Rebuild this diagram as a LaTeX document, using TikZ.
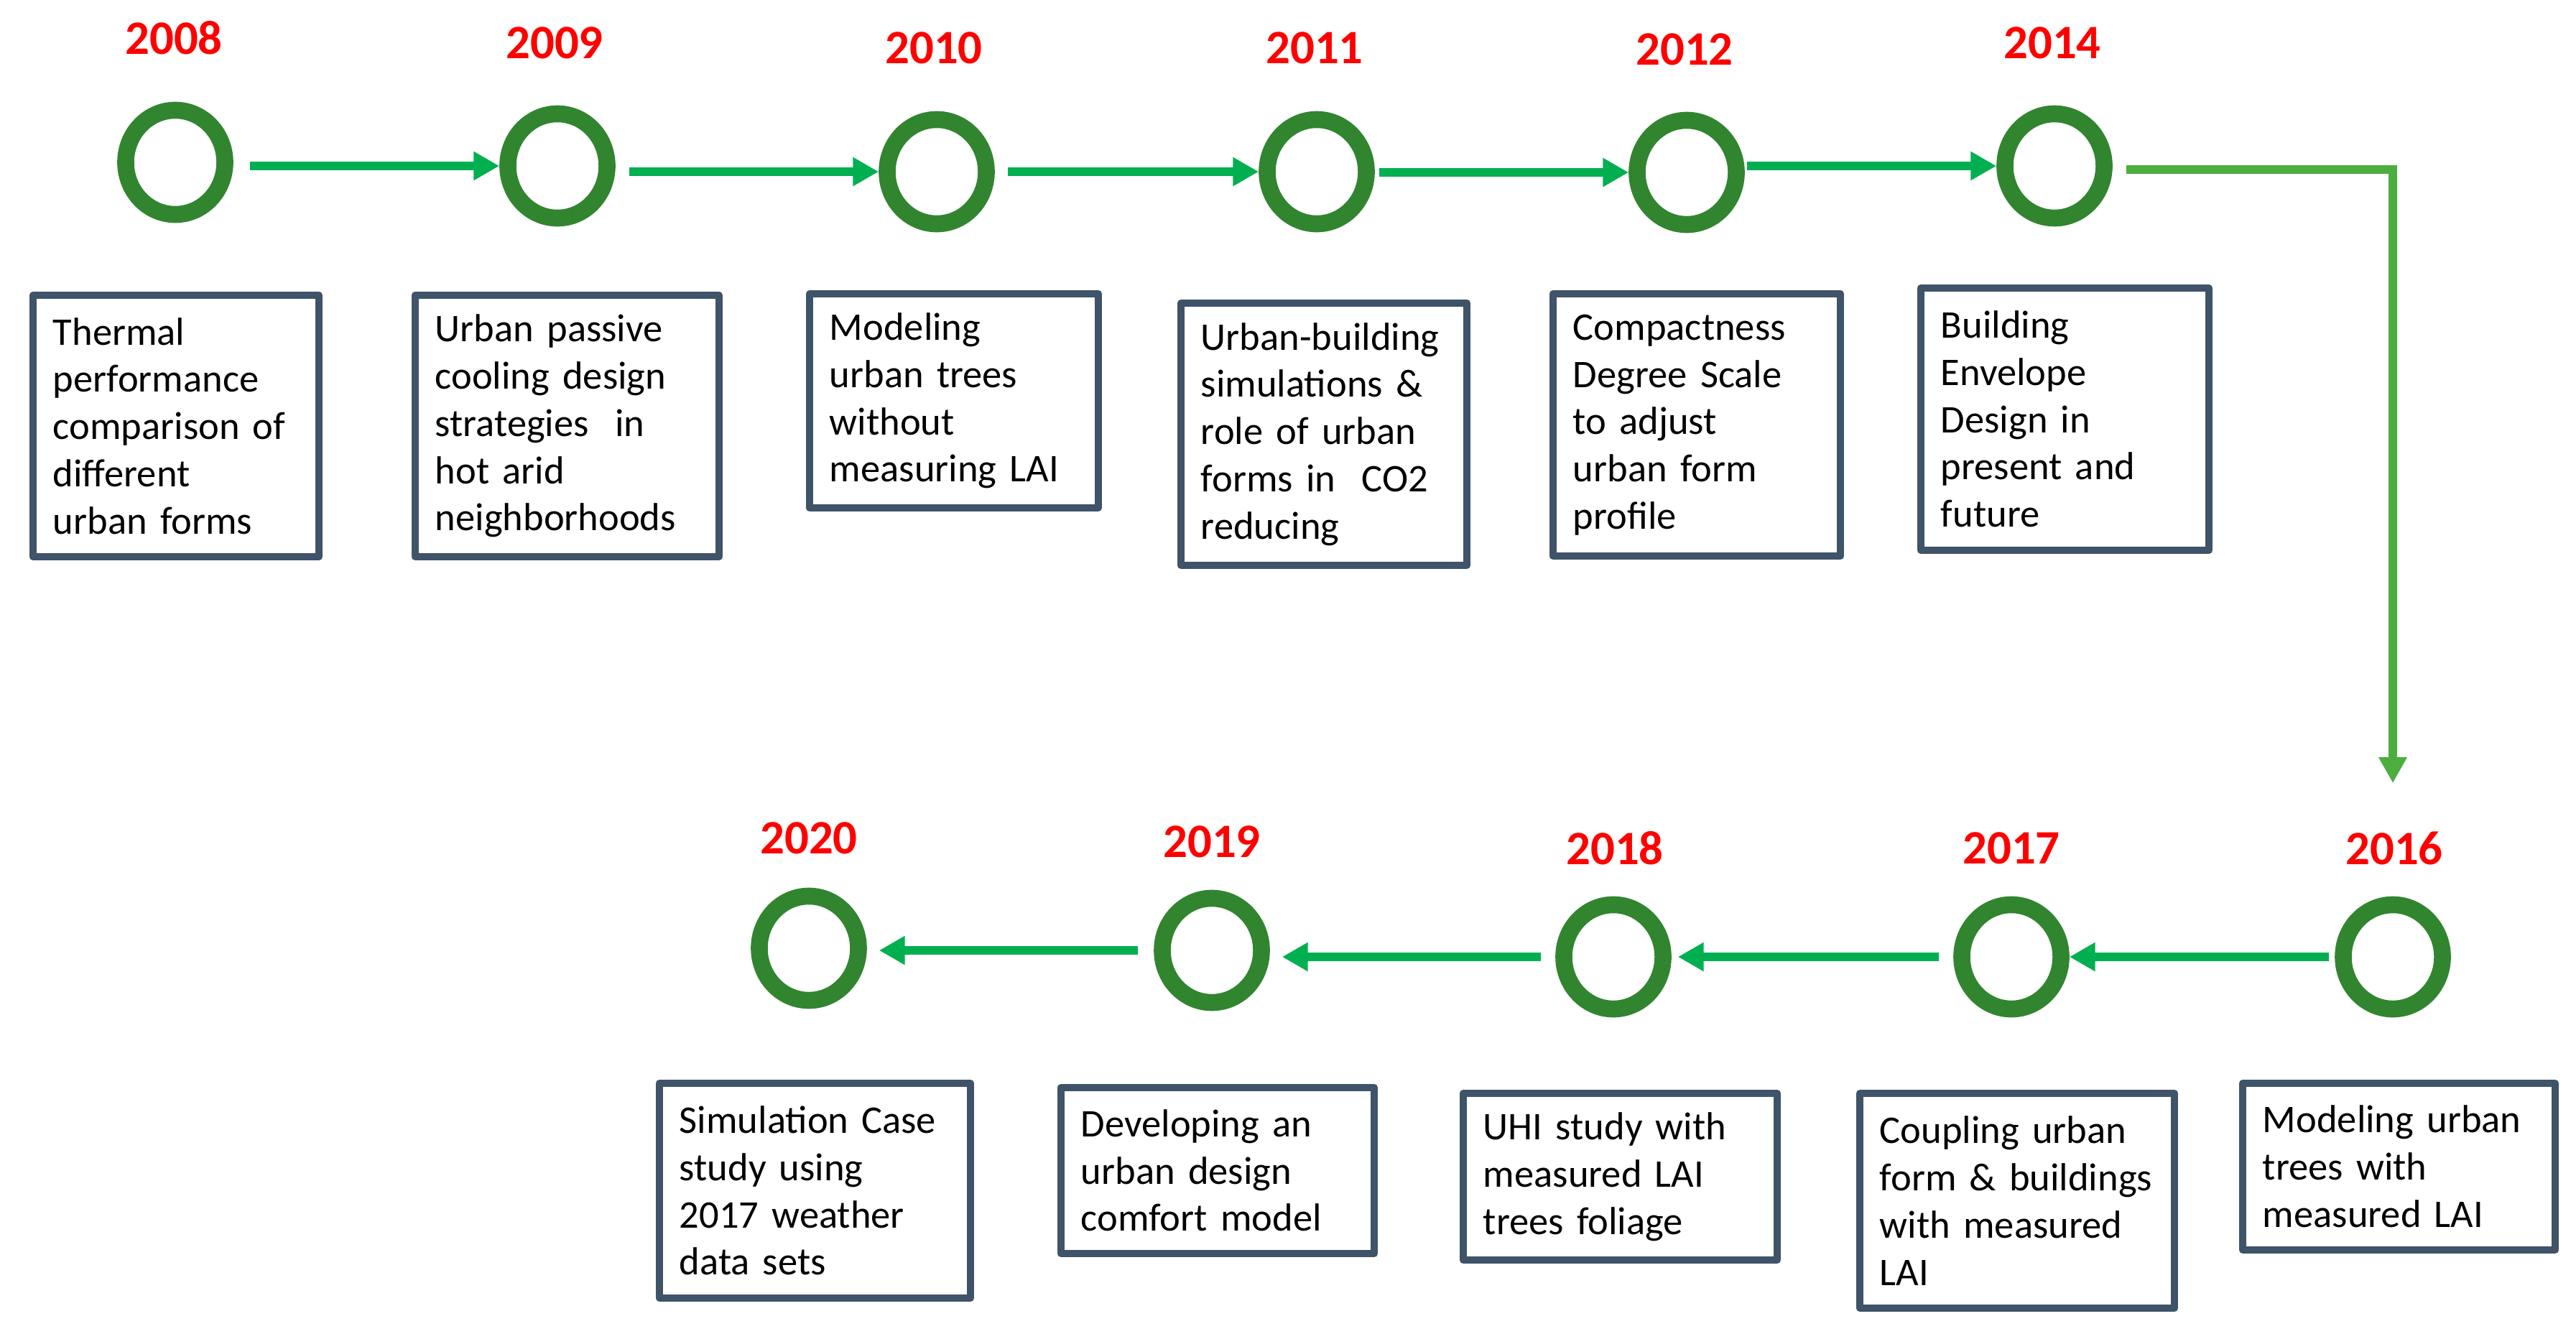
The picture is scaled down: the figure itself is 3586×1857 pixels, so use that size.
\documentclass[tikz,border=0pt]{standalone}
\usepackage{fontspec}
\setmainfont{Carlito}
\usetikzlibrary{shapes.geometric,arrows.meta}
\definecolor{ringc}{HTML}{31852F}
\definecolor{yearc}{HTML}{FF0000}
\definecolor{arrc}{HTML}{00B050}
\definecolor{arrlight}{HTML}{4BAE3E}
\definecolor{boxc}{HTML}{3F5369}
\begin{document}
\begin{tikzpicture}[x=0.01cm,y=-0.01cm,
  ringnode/.style={ellipse, draw=ringc, line width=6.7pt, minimum width=1.38cm, minimum height=1.45cm, inner sep=0pt},
  yearlab/.style={text=yearc, font=\fontsize{19}{22}\selectfont\bfseries, inner sep=0pt},
  card/.style={draw=boxc, fill=white, line width=2.85pt, line join=round, inner xsep=0.28cm, inner ysep=0pt, align=left, font=\fontsize{15.5}{18.7}\selectfont},
  flow/.style={draw=arrc, line width=3.4pt, -{Triangle[length=10.2pt,width=10.8pt]}},
  flowlight/.style={draw=arrlight, line width=3.5pt, line join=miter, -{Triangle[length=10.2pt,width=10.6pt]}}
]
\useasboundingbox (0,0) rectangle (3586,1857);

% top row circles
\node[ringnode] (c08) at (244,226) {};
\node[ringnode] (c09) at (776,231) {};
\node[ringnode] (c10) at (1304,239) {};
\node[ringnode] (c11) at (1833,239) {};
\node[ringnode] (c12) at (2348,240) {};
\node[ringnode] (c14) at (2860,231) {};
% bottom row circles
\node[ringnode] (c20) at (1126,1320) {};
\node[ringnode] (c19) at (1687,1323) {};
\node[ringnode] (c18) at (2246,1332) {};
\node[ringnode] (c17) at (2800,1332) {};
\node[ringnode] (c16) at (3331,1332) {};

% year labels
\node[yearlab] (y08) at (242,53) {2008};
\node[yearlab] (y09) at (772,60) {2009};
\node[yearlab] (y10) at (1300,67) {2010};
\node[yearlab] (y11) at (1830,67) {2011};
\node[yearlab] (y12) at (2345,69) {2012};
\node[yearlab] (y14) at (2857,60) {2014};
\node[yearlab] (y20) at (1126,1167) {2020};
\node[yearlab] (y19) at (1687,1172) {2019};
\node[yearlab] (y18) at (2248,1181) {2018};
\node[yearlab] (y17) at (2800,1181) {2017};
\node[yearlab] (y16) at (3333,1181) {2016};

% boxes top
\node[card, text width=3.42cm, minimum height=3.64cm] (b08) at (245,593)
  {Thermal\\performance\\comparison of\\different\\urban forms};
\node[card, text width=3.67cm, minimum height=3.64cm] (b09) at (789.5,593)
  {Urban passive\\cooling design\\strategies~ in\\hot arid\\neighborhoods};
\node[card, text width=3.46cm, minimum height=2.98cm] (b10) at (1328,558)
  {Modeling\\urban trees\\without\\measuring LAI};
\node[card, text width=3.42cm, minimum height=3.65cm] (b11) at (1843,604.5)
  {\mbox{Urban-building}\\simulations \&\\role of urban\\forms in~ CO2\\reducing};
\node[card, text width=3.44cm, minimum height=3.65cm] (b12) at (2362,591.5)
  {Compactness\\Degree Scale\\to adjust\\urban form\\profile};
\node[card, text width=3.45cm, minimum height=3.65cm] (b14) at (2874.5,583.5)
  {Building\\Envelope\\Design in\\present and\\future};
% boxes bottom
\node[card, text width=3.79cm, minimum height=2.32cm] (b16) at (3339.5,1624)
  {Modeling urban\\trees with\\measured LAI};
\node[card, text width=3.82cm, minimum height=2.99cm] (b17) at (2808,1671.5)
  {Coupling urban\\form \& buildings\\with measured\\LAI};
\node[card, text width=3.81cm, minimum height=2.32cm] (b18) at (2255.5,1638)
  {UHI study with\\measured LAI\\trees foliage};
\node[card, text width=3.80cm, minimum height=2.31cm] (b19) at (1695,1629.5)
  {Developing an\\urban design\\comfort model};
\node[card, text width=3.77cm, minimum height=2.99cm] (b20) at (1134.5,1657.5)
  {Simulation Case\\study using\\2017 weather\\data sets};

% top arrows
\draw[flow] ([xshift=0.23cm]c08.east |- c09.west) -- (c09.west);
\draw[flow] ([xshift=0.19cm]c09.east |- c10.west) -- (c10.west);
\draw[flow] ([xshift=0.18cm]c10.east |- c11.west) -- (c11.west);
\draw[flow] ([xshift=0.06cm]c11.east |- c12.west) -- (c12.west);
\draw[flow] ([xshift=0.03cm]c12.east |- c14.west) -- (c14.west);

% corner arrow
\coordinate (turnend) at (3331,1090);
\draw[flowlight] ([xshift=0.19cm,yshift=-0.05cm]c14.east) -| (turnend);

% bottom arrows
\draw[flow] ([xshift=-0.08cm]c16.west) -- ([xshift=0cm]c16.west -| c17.east);
\draw[flow] ([xshift=-0.20cm]c17.west) -- ([xshift=0.09cm]c17.west -| c18.east);
\draw[flow] ([xshift=-0.20cm]c18.west) -- ([xshift=0.17cm]c18.west -| c19.east);
\draw[flow] ([xshift=-0.22cm]c19.west) -- ([xshift=0.17cm]c19.west -| c20.east);
\end{tikzpicture}
\end{document}
